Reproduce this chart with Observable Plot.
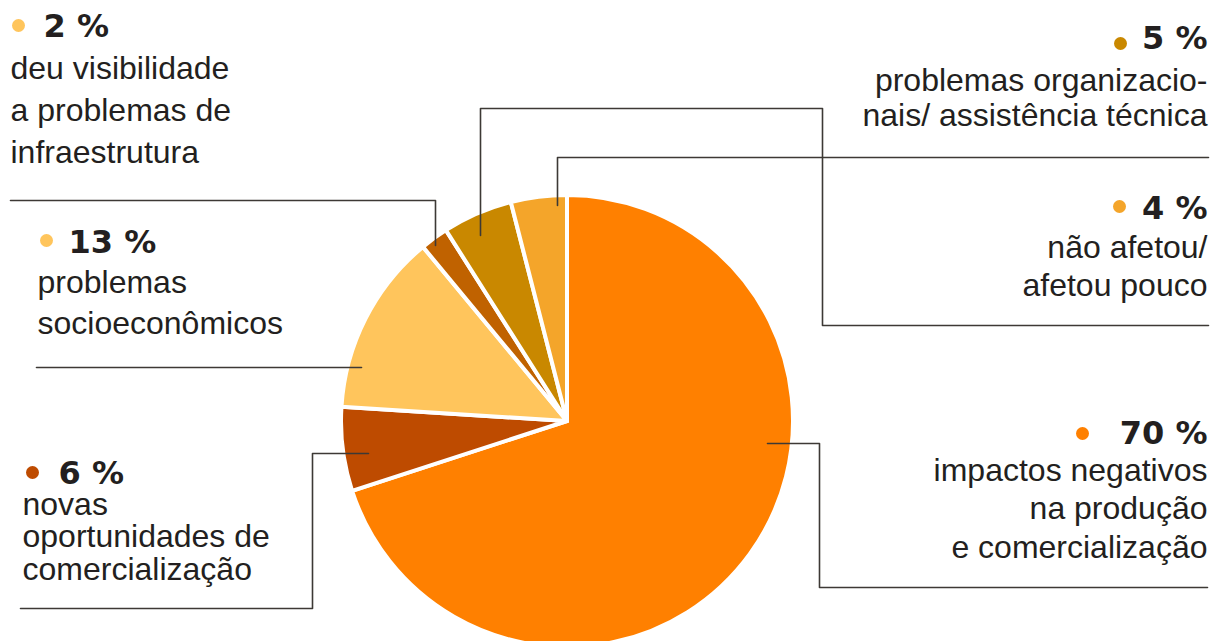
<!DOCTYPE html>
<html>
<head>
<meta charset="utf-8">
<script src="https://cdn.jsdelivr.net/npm/d3@7"></script>
<script src="https://cdn.jsdelivr.net/npm/@observablehq/plot@0.6"></script>
<style>
  html, body { margin: 0; padding: 0; background: #ffffff; }
  #chart svg { display: block; }
</style>
</head>
<body>
<div id="chart"></div>
<script>
// ---- data ----
const categories = [
  "impactos negativos\nna produção\ne comercialização",
  "novas\noportunidades de\ncomercialização",
  "problemas\nsocioeconômicos",
  "deu visibilidade\na problemas de\ninfraestrutura",
  "problemas organizacio-\nnais/ assistência técnica",
  "não afetou/\nafetou pouco"
];
const values = [70, 6, 13, 2, 5, 4];
const pctLabels = ["70 %", "6 %", "13 %", "2 %", "5 %", "4 %"];
const sliceColors = ["#FF8000", "#BE4B00", "#FFC55C", "#C06200", "#C98800", "#F4A52A"];
const bulletColors = ["#FF8000", "#BE4B00", "#FFC55C", "#FFC55C", "#C98800", "#F4A52A"];

// ---- layout (pixel space of the 1220x641 frame) ----
const pieCenter = [567, 421];
const pieRadius = 226;
const labelAnchor = ["end", "start", "start", "start", "end", "end"];
const bodyX = [1207, 22, 37, 10, 1207, 1207];
const pctX = [1207, 58, 68, 43, 1207, 1207];
const pctBaseline = [443, 483, 252, 36, 48, 218];
const bulletX = [1082, 32, 46, 18, 1120, 1119];
const bulletY = [433, 472, 240, 25, 43, 206];
const bodyBaseline = [480, 514, 292, 78, 90, 257];
const bodyLineStep = [38.5, 32.5, 41, 42, 35, 38];
const leaders = [
  [[767, 443], [819, 443], [819, 587], [1207, 587]],
  [[20, 608], [312, 608], [312, 453], [368, 453]],
  [[36, 367], [361, 367]],
  [[10, 200], [435, 200], [435, 245]],
  [[1208, 157], [557, 157], [557, 205]],
  [[1208, 325], [822, 325], [822, 108], [480, 108], [480, 235]]
];

// ---- derived tables ----
const leaderRows = leaders.flatMap((pts, k) => pts.map(([x, y]) => ({k, x, y})));
const textRows = [];
categories.forEach((c, i) => {
  c.split("\n").forEach((line, j) => {
    textRows.push({i, x: bodyX[i], y: bodyBaseline[i] + j * bodyLineStep[i], t: line, anchor: labelAnchor[i]});
  });
});
const pctRows = pctLabels.map((t, i) => ({i, x: pctX[i], y: pctBaseline[i], t, anchor: labelAnchor[i]}));
const bulletRows = values.map((v, i) => ({i, x: bulletX[i], y: bulletY[i], c: bulletColors[i]}));

const pieMark = (index, scales) => {
  const cx = scales.x(pieCenter[0]);
  const cy = scales.y(pieCenter[1]);
  const r = scales.x(pieCenter[0] + pieRadius) - cx;
  const arcs = d3.pie().sort(null).value(d => d)(values);
  const arc = d3.arc().innerRadius(0).outerRadius(r);
  const g = d3.create("svg:g").attr("transform", `translate(${cx},${cy})`);
  g.selectAll("path")
    .data(arcs)
    .join("path")
    .attr("d", arc)
    .attr("fill", (d, i) => sliceColors[i])
    .attr("stroke", "#ffffff")
    .attr("stroke-width", 4)
    .attr("stroke-linejoin", "round");
  return g.node();
};

const bodyFont = {fontFamily: "Liberation Sans, Arial, sans-serif", fontSize: 32, fill: "#231f20", lineAnchor: "bottom"};
const pctFont = {fontFamily: "DejaVu Sans, sans-serif", fontWeight: "bold", fontSize: 32, fill: "#231f20", lineAnchor: "bottom"};

const chart = Plot.plot({
  width: 1220,
  height: 641,
  margin: 0,
  x: {domain: [0, 1220], range: [0, 1220], axis: null},
  y: {domain: [0, 641], range: [0, 641], axis: null},
  style: {background: "#ffffff"},
  marks: [
    pieMark,
    Plot.line(leaderRows, {x: "x", y: "y", z: "k", stroke: "#3d3935", strokeWidth: 1.6, curve: "linear"}),
    Plot.dot(bulletRows, {x: "x", y: "y", r: 6.5, fill: "c", stroke: null}),
    Plot.text(textRows.filter(d => d.anchor === "start"), {x: "x", y: "y", text: "t", textAnchor: "start", ...bodyFont}),
    Plot.text(textRows.filter(d => d.anchor === "end"), {x: "x", y: "y", text: "t", textAnchor: "end", ...bodyFont}),
    Plot.text(pctRows.filter(d => d.anchor === "start"), {x: "x", y: "y", text: "t", textAnchor: "start", ...pctFont}),
    Plot.text(pctRows.filter(d => d.anchor === "end"), {x: "x", y: "y", text: "t", textAnchor: "end", ...pctFont})
  ]
});
document.getElementById("chart").appendChild(chart);
</script>
</body>
</html>
